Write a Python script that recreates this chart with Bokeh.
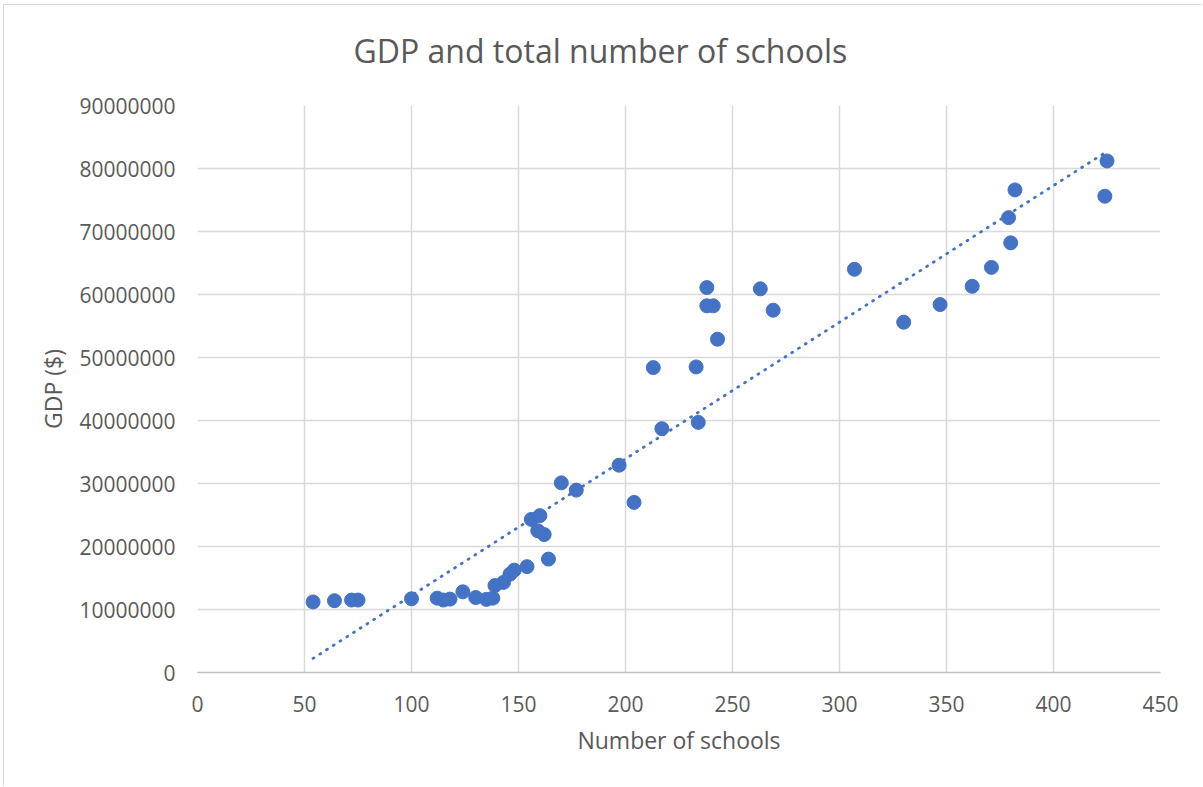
import numpy as np
from bokeh.plotting import figure
from bokeh.models import FixedTicker, PrintfTickFormatter, Range1d, Title
from bokeh.embed import file_html
from bokeh.resources import INLINE

# ---- data ----
schools = [54, 64, 72, 75, 100, 112, 115, 118, 124, 130, 135, 138, 139, 143, 146, 148, 154, 164,
           238, 263, 238, 241, 269, 243, 213, 233, 217, 234, 197, 170, 177, 204, 156, 160, 159, 162,
           425, 424, 382, 379, 380, 371, 362, 347, 330, 307]
gdp = [11200000, 11400000, 11500000, 11500000, 11700000, 11800000, 11500000, 11650000, 12800000,
       11900000, 11600000, 11800000, 13800000, 14300000, 15600000, 16250000, 16800000, 18000000,
       61100000, 60900000, 58200000, 58200000, 57500000, 52900000, 48400000, 48500000, 38700000,
       39700000, 32900000, 30100000, 28950000, 27000000, 24300000, 24900000, 22500000, 21900000,
       81200000, 75600000, 76600000, 72200000, 68200000, 64300000, 61300000, 58400000, 55600000,
       64000000]
x_ticks = [0, 50, 100, 150, 200, 250, 300, 350, 400, 450]
y_ticks = [0, 10000000, 20000000, 30000000, 40000000, 50000000, 60000000, 70000000, 80000000, 90000000]

title_text = "GDP and total number of schools"
x_label = "Number of schools"
y_label = "GDP ($)"

TEXT = "#595959"
GRID = "#d9d9d9"
BLUE = "#4472C4"
FONT = "Open Sans"

p = figure(width=1199, height=782, output_backend="svg", toolbar_location=None,
           x_range=Range1d(0, 450), y_range=Range1d(0, 90000000),
           min_border_left=193, min_border_right=43, min_border_top=100, min_border_bottom=115,
           styles={"margin-left": "3px", "margin-top": "4px",
                   "border-left": "1px solid #d9d9d9", "border-top": "1px solid #d9d9d9"})
p.outline_line_color = None
p.background_fill_color = "white"
p.border_fill_color = "white"

# blank spacer panel between the frame and the title
p.add_layout(Title(text=" ", text_font_size="10px", standoff=21), "above")

# title
p.title.text = title_text
p.title.align = "left"
p.title.offset = 156
p.title.text_font = FONT
p.title.text_font_size = "32px"
p.title.text_font_style = "normal"
p.title.text_color = TEXT
p.title.standoff = 0

# axes
p.xaxis.ticker = FixedTicker(ticks=x_ticks)
p.yaxis.ticker = FixedTicker(ticks=y_ticks)
p.yaxis.formatter = PrintfTickFormatter(format="%d")
for ax in (p.xaxis[0], p.yaxis[0]):
    ax.major_tick_line_color = None
    ax.minor_tick_line_color = None
    ax.major_label_text_font = FONT
    ax.major_label_text_font_size = "21px"
    ax.major_label_text_color = TEXT
    ax.axis_label_text_font = FONT
    ax.axis_label_text_font_size = "23px"
    ax.axis_label_text_font_style = "normal"
    ax.axis_label_text_color = TEXT
p.xaxis.axis_line_color = "#bfbfbf"
p.xaxis.axis_line_width = 1.5
p.yaxis.axis_line_color = None
p.xaxis.major_label_standoff = 17
p.yaxis.major_label_standoff = 16
p.xaxis.axis_label = x_label
p.yaxis.axis_label = y_label
p.xaxis.axis_label_standoff = 9
p.yaxis.axis_label_standoff = 7

p.xgrid.grid_line_color = GRID
p.ygrid.grid_line_color = GRID
p.xgrid.grid_line_width = 1.5
p.ygrid.grid_line_width = 1.5

# trendline (linear least squares)
slope, intercept = np.polyfit(np.array(schools, float), np.array(gdp, float), 1)
tx = [min(schools), max(schools)]
ty = [slope * v + intercept for v in tx]
p.line(tx, ty, line_color=BLUE, line_width=2.8, line_dash="1 7", line_cap="round")

p.scatter(schools, gdp, size=14, fill_color=BLUE, line_color=BLUE)

open("out.html", "w").write(file_html(p, INLINE))
